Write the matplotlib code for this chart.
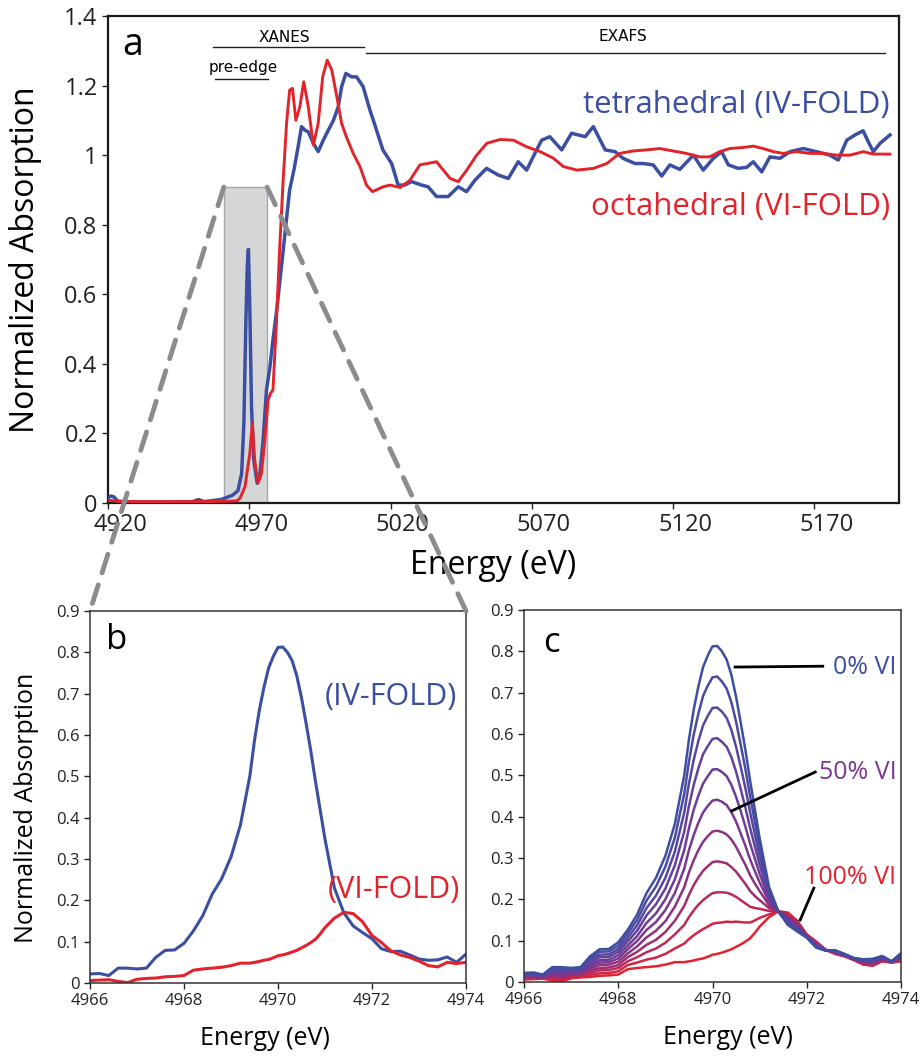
import matplotlib
matplotlib.use("Agg")
import matplotlib.pyplot as plt
from matplotlib.patches import Rectangle, ConnectionPatch
from matplotlib.transforms import ScaledTranslation

plt.rcParams['font.family'] = ['Open Sans', 'DejaVu Sans']

BLUE = '#3b4fa2'
RED = '#e3232b'

# ---- panel a: full spectra ----
e_iv = [4920, 4921, 4922, 4923.5, 4930, 4940, 4950, 4952, 4954, 4958,
        4960, 4962, 4964, 4966, 4967.3, 4968.1, 4968.8, 4969.3, 4969.7, 4970.2,
        4970.8, 4971.6, 4972.8, 4973.7, 4974.9, 4976.1, 4977.3, 4978.4, 4979.8, 4981.4,
        4982.9, 4984.3, 4985.8, 4987.3, 4988.5, 4989.7, 4990.9, 4992.7, 4994.4, 4996.2,
        4998.0, 4999.8, 5001.5, 5002.7, 5004.2, 5006.2, 5008.0, 5010.3, 5012.7, 5014.3,
        5017.3, 5020.4, 5022.7, 5025.1, 5027.4, 5031.0, 5033.3, 5036.3, 5040.4, 5044.0,
        5046.9, 5049.9, 5054.0, 5058.1, 5061.7, 5065.2, 5068.2, 5071.1, 5073.5, 5076.4,
        5080.6, 5084.1, 5088.9, 5091.8, 5096.0, 5099.5, 5102.3, 5106.5, 5109.4, 5113.0,
        5116.0, 5118.9, 5122.4, 5127.2, 5130.7, 5134.3, 5137.2, 5139.6, 5143.1, 5146.1,
        5148.4, 5151.4, 5154.3, 5157.9, 5161.4, 5166.1, 5170.8, 5175.5, 5178.5, 5181.5,
        5184.4, 5187.3, 5189.1, 5190.9, 5193.3, 5196.8]
mu_iv = [0.015, 0.020, 0.018, 0.005, 0.003, 0.003, 0.004, 0.010, 0.004, 0.008,
         0.010, 0.016, 0.022, 0.035, 0.085, 0.230, 0.520, 0.680, 0.729, 0.560,
         0.277, 0.124, 0.057, 0.076, 0.180, 0.325, 0.390, 0.470, 0.560, 0.680,
         0.794, 0.900, 0.957, 1.024, 1.082, 1.072, 1.067, 1.034, 1.010, 1.043,
         1.072, 1.100, 1.139, 1.197, 1.235, 1.225, 1.225, 1.197, 1.130, 1.091,
         1.015, 0.976, 0.914, 0.914, 0.924, 0.914, 0.909, 0.881, 0.881, 0.909,
         0.895, 0.928, 0.962, 0.943, 0.933, 0.981, 0.957, 1.005, 1.043, 1.053,
         1.015, 1.063, 1.053, 1.082, 1.015, 1.010, 0.991, 0.976, 0.976, 0.972,
         0.940, 0.972, 0.959, 1.000, 0.957, 0.991, 1.010, 0.972, 0.962, 0.965,
         0.981, 0.952, 0.995, 0.991, 1.010, 1.019, 1.010, 1.000, 0.986, 1.043,
         1.058, 1.070, 1.039, 1.010, 1.034, 1.058]

e_vi = [4920, 4925, 4935, 4945, 4955, 4962, 4965.5, 4966.7, 4968.5, 4970.2,
        4971.1, 4971.9, 4973.1, 4974.3, 4975.5, 4976.7, 4977.5, 4978.4, 4979.6, 4980.8,
        4982.0, 4983.2, 4984.3, 4985.3, 4986.5, 4987.9, 4989.3, 4990.9, 4992.7, 4994.4,
        4996.0, 4997.6, 4999.2, 5001.0, 5002.7, 5004.5, 5006.8, 5009.2, 5011.5, 5013.6,
        5017.4, 5019.8, 5023.4, 5026.9, 5030.4, 5036.3, 5038.7, 5041.1, 5044.0, 5047.0,
        5050.5, 5054.1, 5058.8, 5063.5, 5068.2, 5073.0, 5077.7, 5081.2, 5086.0, 5091.9,
        5096.6, 5101.1, 5105.8, 5110.5, 5115.3, 5120.0, 5124.7, 5129.4, 5133.0, 5136.5,
        5140.1, 5144.8, 5148.4, 5151.9, 5155.5, 5159.0, 5163.7, 5168.5, 5173.2, 5177.9,
        5182.6, 5187.4, 5190.9, 5196.8]
mu_vi = [0.008, 0.004, 0.004, 0.004, 0.004, 0.005, 0.006, 0.013, 0.047, 0.143,
         0.229, 0.124, 0.057, 0.085, 0.180, 0.296, 0.315, 0.325, 0.516, 0.737,
         0.928, 1.091, 1.187, 1.192, 1.100, 1.139, 1.211, 1.139, 1.029, 1.091,
         1.225, 1.273, 1.245, 1.168, 1.091, 1.050, 1.005, 0.967, 0.914, 0.895,
         0.909, 0.914, 0.907, 0.928, 0.972, 0.981, 0.957, 0.933, 0.924, 0.957,
         1.000, 1.034, 1.045, 1.043, 1.024, 1.010, 0.991, 0.967, 0.957, 0.962,
         0.976, 1.005, 1.012, 1.015, 1.019, 1.012, 1.005, 0.995, 0.995, 1.010,
         1.019, 1.022, 1.026, 1.019, 1.010, 1.005, 1.010, 1.005, 1.005, 1.000,
         1.000, 1.010, 1.003, 1.003]

a_xticks = [4920, 4970, 5020, 5070, 5120, 5170]
a_yticks = [0, 0.2, 0.4, 0.6, 0.8, 1.0, 1.2, 1.4]
a_ylabels = ['0', '0.2', '0.4', '0.6', '0.8', '1', '1.2', '1.4']

# ---- panels b, c: pre-edge ----
e_pre = [4966.0, 4966.2, 4966.4, 4966.6, 4966.8, 4967.0, 4967.2, 4967.4, 4967.6, 4967.8,
         4968.0, 4968.2, 4968.4, 4968.6, 4968.8, 4969.0, 4969.2,
         4969.4, 4969.5, 4969.6, 4969.7, 4969.8, 4969.9, 4970.0, 4970.1, 4970.2,
         4970.3, 4970.4, 4970.5, 4970.6, 4970.7, 4970.8, 4970.9, 4971.0,
         4971.2, 4971.4, 4971.6, 4971.8, 4972.0, 4972.2, 4972.4, 4972.6, 4972.8, 4973.0,
         4973.2, 4973.4, 4973.6, 4973.8, 4974.0]
pre_iv = [.022, .023, .018, .036, .036, .034, .036, .062, .079, .080, .096, .126, .163, .215, .252, .305, .382,
          .500, .587, .658, .715, .762, .790, .812, .813, .800, .780, .743, .690, .627, .560, .486, .417, .348,
          .230, .170, .138, .122, .107, .083, .076, .077, .068, .058, .055, .056, .063, .050, .070]
vi10 = [.020, .021, .017, .033, .033, .032, .034, .057, .073, .074, .088, .117, .150, .197, .231, .279, .349,
        .455, .533, .598, .649, .692, .717, .737, .739, .727, .710, .677, .630, .573, .514, .448, .387, .327,
        .223, .170, .141, .125, .108, .085, .076, .076, .067, .058, .054, .054, .062, .050, .068]
vi20 = [.019, .020, .016, .030, .029, .029, .031, .052, .066, .067, .080, .107, .137, .179, .209, .252, .315,
        .410, .480, .537, .583, .621, .644, .663, .664, .654, .639, .610, .569, .520, .468, .410, .357, .305,
        .215, .170, .144, .127, .109, .086, .076, .075, .067, .057, .052, .053, .060, .049, .066]
vi30 = [.017, .018, .015, .026, .026, .027, .029, .047, .060, .061, .073, .098, .124, .161, .188, .226, .282,
        .364, .426, .476, .517, .551, .571, .588, .590, .581, .569, .544, .509, .466, .421, .372, .328, .284,
        .208, .170, .147, .130, .109, .088, .077, .074, .066, .057, .051, .051, .059, .049, .064]
vi40 = [.016, .017, .014, .023, .022, .024, .026, .042, .053, .054, .065, .088, .111, .143, .166, .200, .248,
        .319, .372, .416, .451, .480, .498, .514, .515, .508, .498, .477, .448, .413, .375, .334, .298, .262,
        .201, .170, .150, .132, .110, .089, .077, .073, .066, .056, .050, .049, .058, .049, .062]
vi50 = [.014, .015, .013, .020, .019, .022, .024, .037, .047, .048, .057, .079, .099, .126, .145, .174, .215,
        .274, .319, .355, .385, .410, .426, .439, .441, .436, .428, .411, .388, .359, .329, .296, .268, .241,
        .194, .171, .153, .135, .111, .091, .077, .073, .065, .056, .049, .048, .057, .049, .060]
vi60 = [.012, .013, .012, .017, .015, .019, .021, .032, .041, .042, .049, .069, .086, .108, .124, .147, .182,
        .229, .265, .294, .319, .339, .353, .364, .366, .363, .357, .345, .327, .305, .283, .258, .238, .220,
        .186, .171, .156, .138, .112, .092, .077, .072, .064, .055, .047, .046, .055, .048, .058]
vi70 = [.011, .012, .011, .014, .012, .017, .019, .027, .034, .035, .041, .060, .073, .090, .102, .121, .148,
        .184, .211, .234, .253, .269, .280, .290, .292, .290, .287, .278, .267, .252, .237, .220, .208, .198,
        .179, .171, .159, .140, .113, .094, .077, .071, .064, .055, .046, .044, .054, .048, .056]
vi80 = [.009, .010, .010, .010, .008, .014, .016, .022, .028, .029, .034, .050, .060, .072, .081, .095, .115,
        .138, .157, .173, .187, .198, .207, .215, .217, .217, .216, .212, .206, .198, .190, .182, .179, .177,
        .172, .171, .162, .143, .113, .095, .078, .070, .063, .054, .045, .042, .053, .048, .054]
vi90 = [.008, .009, .009, .007, .005, .012, .014, .017, .021, .022, .026, .041, .047, .054, .059, .068, .081,
        .093, .104, .113, .121, .128, .134, .141, .143, .144, .146, .145, .146, .145, .144, .144, .149, .155,
        .164, .171, .165, .145, .114, .097, .078, .069, .063, .054, .043, .041, .051, .047, .052]
pre_vi = [.006, .007, .008, .004, .001, .009, .011, .012, .015, .016, .018, .031, .034, .036, .038, .042, .048,
          .048, .050, .052, .055, .057, .061, .066, .068, .071, .075, .079, .085, .091, .098, .106, .119, .134,
          .157, .171, .168, .148, .115, .098, .078, .068, .062, .053, .042, .039, .050, .047, .050]
mix_series = [pre_iv, vi10, vi20, vi30, vi40, vi50, vi60, vi70, vi80, vi90, pre_vi]
mix_colors = ['#3d4fa1', '#4a4aa0', '#5746a0', '#63419c', '#6e3c96', '#7a3890',
              '#8a3383', '#a02d70', '#b82a5c', '#d02545', '#e4222e']

pre_xticks = [4966, 4968, 4970, 4972, 4974]
pre_yticks = [0, 0.1, 0.2, 0.3, 0.4, 0.5, 0.6, 0.7, 0.8, 0.9]
pre_ylabels = ['0', '0.1', '0.2', '0.3', '0.4', '0.5', '0.6', '0.7', '0.8', '0.9']

W, H = 922, 1061
fig = plt.figure(figsize=(W / 100, H / 100), dpi=100)
ax_a = fig.add_axes([108 / W, 1 - 503 / H, 791 / W, 487 / H])
ax_b = fig.add_axes([90 / W, 1 - 983 / H, 376 / W, 372 / H])
ax_c = fig.add_axes([524 / W, 1 - 982 / H, 377 / W, 372 / H])

# panel a
ax_a.add_patch(Rectangle((4961.0, 0), 15.3, 0.908, facecolor='#d5d6d8',
                         edgecolor='#a8a8a8', lw=1, zorder=1))
ax_a.plot(e_iv, mu_iv, color=BLUE, lw=2.5, zorder=3)
ax_a.plot(e_vi, mu_vi, color=RED, lw=2.1, zorder=4)
ax_a.set_xlim(4920, 5200)
ax_a.set_ylim(0, 1.4)
ax_a.set_xticks(a_xticks)
ax_a.set_yticks(a_yticks)
ax_a.set_yticklabels(a_ylabels)
ax_a.tick_params(labelsize=17, direction='out', length=4, width=1, colors='#222222')
for lab in ax_a.get_xticklabels():
    lab.set_transform(lab.get_transform() + ScaledTranslation(0.12, 0, fig.dpi_scale_trans))
for sp in ax_a.spines.values():
    sp.set_linewidth(1.6)
    sp.set_color('#1a1a1a')
ax_a.set_xlabel('Energy (eV)', fontsize=23)
ax_a.xaxis.set_label_coords(0.487, -0.094)
ax_a.set_ylabel('Normalized Absorption', fontsize=23)
ax_a.yaxis.set_label_coords(-0.084, 0.5)

ax_a.text(4925, 1.316, 'a', fontsize=27, ha='left', va='center')
ax_a.plot([4957.2, 5010.6], [1.311, 1.311], color='#222222', lw=1)
ax_a.text(4982.6, 1.337, 'XANES', fontsize=11, ha='center', va='center', family='DejaVu Sans')
ax_a.plot([5011.3, 5194.9], [1.293, 1.293], color='#222222', lw=1)
ax_a.text(5102.2, 1.34, 'EXAFS', fontsize=11, ha='center', va='center', family='DejaVu Sans')
ax_a.plot([4957.9, 4976.6], [1.219, 1.219], color='#222222', lw=1)
ax_a.text(4967.8, 1.253, 'pre-edge', fontsize=11, ha='center', va='center', family='DejaVu Sans')
ax_a.text(5196.7, 1.144, 'tetrahedral (IV-FOLD)', fontsize=22.5, color=BLUE,
          ha='right', va='center')
ax_a.text(5196.7, 0.851, 'octahedral (VI-FOLD)', fontsize=22.5, color=RED,
          ha='right', va='center')

# panel b
ax_b.plot(e_pre, pre_iv, color=BLUE, lw=2.2)
ax_b.plot(e_pre, pre_vi, color=RED, lw=2.2)
ax_b.text(4966.34, 0.83, 'b', fontsize=25, ha='left', va='center')
ax_b.text(4973.81, 0.692, '(IV-FOLD)', fontsize=22, color=BLUE, ha='right', va='center')
ax_b.text(4973.87, 0.225, '(VI-FOLD)', fontsize=22, color=RED, ha='right', va='center')
ax_b.set_ylabel('Normalized Absorption', fontsize=18)
ax_b.yaxis.set_label_coords(-0.136, 0.47)

# panel c
for series, col in zip(mix_series[::-1], mix_colors[::-1]):
    ax_c.plot(e_pre, series, color=col, lw=1.8)
ax_c.text(4966.4, 0.82, 'c', fontsize=25, ha='left', va='center')
ax_c.plot([4970.48, 4972.34], [0.762, 0.764], color='black', lw=2)
ax_c.text(4973.9, 0.760, '0% VI', fontsize=18, color=mix_colors[0], ha='right', va='center')
ax_c.plot([4970.41, 4972.18], [0.414, 0.508], color='black', lw=2)
ax_c.text(4973.9, 0.506, '50% VI', fontsize=18, color=mix_colors[5], ha='right', va='center')
ax_c.plot([4971.86, 4972.15], [0.150, 0.227], color='black', lw=2)
ax_c.text(4973.9, 0.254, '100% VI', fontsize=18, color=mix_colors[10], ha='right', va='center')

for ax, lx in ((ax_b, 0.465), (ax_c, 0.54)):
    ax.set_xlim(4966, 4974)
    ax.set_ylim(0, 0.9)
    ax.set_xticks(pre_xticks)
    ax.set_yticks(pre_yticks)
    ax.set_yticklabels(pre_ylabels)
    ax.tick_params(labelsize=12, direction='out', length=4, width=1, colors='#222222')
    for sp in ax.spines.values():
        sp.set_linewidth(1.1)
        sp.set_color('#333333')
    ax.set_xlabel('Energy (eV)', fontsize=18)
    ax.xaxis.set_label_coords(lx, -0.115)

# zoom guides from the shaded window in a to panel b
for xa, xb in ((4961.0, 0.0), (4976.3, 1.0)):
    con = ConnectionPatch(xyA=(xa, 0.908), coordsA='data', axesA=ax_a,
                          xyB=(xb, 1.0), coordsB='axes fraction', axesB=ax_b,
                          color='#8c8c8c', lw=3.5, linestyle=(0, (4, 2.6)))
    fig.add_artist(con)

fig.savefig('out.png', dpi=100)
